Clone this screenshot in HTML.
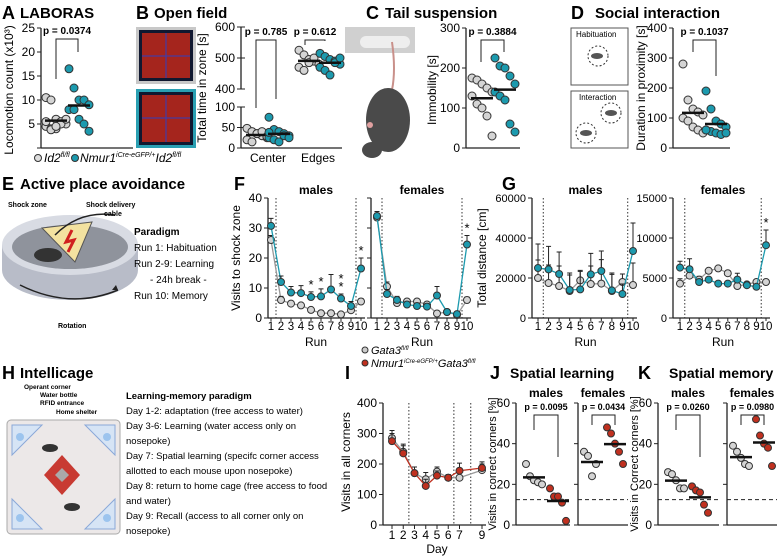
<!DOCTYPE html>
<html><head><meta charset="utf-8"><style>
html,body{margin:0;padding:0;background:#fff}
svg{display:block;font-family:"Liberation Sans",Arial,sans-serif}
.t{font-weight:bold;font-size:15px}
.L{font-weight:bold;font-size:18px}
</style></head><body>
<svg id="fig" width="778" height="559" viewBox="0 0 778 559">
<g>
<text class="L" x="2" y="19">A</text><text class="t" x="20" y="18">LABORAS</text>
<text class="L" x="136" y="19">B</text><text class="t" x="154" y="18">Open field</text>
<text class="L" x="366" y="19">C</text><text class="t" x="385" y="18">Tail suspension</text>
<text class="L" x="571" y="19">D</text><text class="t" x="595" y="18">Social interaction</text>
<text class="L" x="2" y="190">E</text><text class="t" x="20" y="189">Active place avoidance</text>
<text class="L" x="234" y="190">F</text>
<text class="L" x="502" y="190">G</text>
<text class="L" x="2" y="379">H</text><text class="t" x="20" y="378">Intellicage</text>
<text class="L" x="345" y="379">I</text>
<text class="L" x="490" y="379">J</text><text class="t" x="510" y="378" font-size="14" style="font-size:14px">Spatial learning</text>
<text class="L" x="638" y="379">K</text><text class="t" x="669" y="378" style="font-size:14px">Spatial memory</text>
</g>
<g>
<rect x="136" y="27" width="60" height="57" fill="#c8c8c8"/><rect x="139" y="30" width="54" height="51" fill="#101830"/><rect x="142" y="33" width="48" height="45" fill="#c0281a" opacity=".85"/>
<rect x="136" y="89" width="60" height="59" fill="#2a9fb2"/><rect x="139" y="92" width="54" height="53" fill="#101830"/><rect x="142" y="95" width="48" height="47" fill="#c0281a" opacity=".85"/>
<path d="M166 33V78M142 56H190M166 95V142M142 118H190" stroke="#3040c0" stroke-width="1"/>
</g>
<g>
<rect x="345" y="27" width="70" height="26" fill="#d0d0d0"/><rect x="360" y="36" width="50" height="12" rx="6" fill="#eee"/>
<path d="M392 42 Q396 70 392 90" stroke="#c9908a" stroke-width="2" fill="none"/>
<ellipse cx="388" cy="120" rx="22" ry="32" fill="#4a4a4a"/><ellipse cx="372" cy="150" rx="10" ry="8" fill="#4a4a4a"/><circle cx="370" cy="125" r="3" fill="#e0a0a0"/>
</g>
<g font-size="8">
<rect x="571" y="28" width="57" height="57" fill="#fff" stroke="#555"/><text x="576" y="37">Habituation</text><circle cx="598" cy="56" r="10" fill="none" stroke="#333" stroke-dasharray="2 2"/><ellipse cx="597" cy="56" rx="6" ry="3" fill="#555"/>
<rect x="571" y="91" width="57" height="57" fill="#fff" stroke="#555"/><text x="579" y="100">Interaction</text><circle cx="611" cy="113" r="10" fill="none" stroke="#333" stroke-dasharray="2 2"/><circle cx="586" cy="133" r="10" fill="none" stroke="#333" stroke-dasharray="2 2"/><ellipse cx="611" cy="113" rx="6" ry="3" fill="#555"/><ellipse cx="586" cy="133" rx="6" ry="3" fill="#555"/>
</g>
<g font-size="12" font-style="italic">
<circle cx="38" cy="158" r="3.5" fill="#ddd" stroke="#333"/><text x="44" y="162">Id2<tspan font-size="7" dy="-5">fl/fl</tspan></text>
<circle cx="75" cy="158" r="3.5" fill="#1c9aae" stroke="#333"/><text x="80" y="162">Nmur1<tspan font-size="7" dy="-5">iCre-eGFP/+</tspan><tspan dy="5">Id2</tspan><tspan font-size="7" dy="-5">fl/fl</tspan></text>
</g>
<g>
<ellipse cx="70" cy="270" rx="68" ry="30" fill="#b8bcc8"/><rect x="2" y="245" width="136" height="25" fill="#b8bcc8"/><ellipse cx="70" cy="245" rx="68" ry="30" fill="#d8dbe3"/><ellipse cx="70" cy="247" rx="58" ry="22" fill="#8f939c"/>
<path d="M42 228 L92 222 L75 262 Z" fill="#f3e2a0" stroke="#555"/><path d="M72 230 L66 242 L74 240 L68 252" stroke="#d02020" stroke-width="3" fill="none"/>
<ellipse cx="48" cy="255" rx="14" ry="7" fill="#333"/>
<path d="M55 235 Q80 210 115 215" stroke="#222" stroke-width="1.5" fill="none"/>
<path d="M20 285 Q70 310 118 290" stroke="#222" stroke-width="1.5" fill="none"/><path d="M118 290 l-6 0 l4 -5z" fill="#222"/>
<text x="8" y="207" font-size="7" font-weight="bold">Shock zone</text><text x="86" y="207" font-size="7" font-weight="bold">Shock delivery</text><text x="104" y="216" font-size="7" font-weight="bold">cable</text>
<text x="58" y="328" font-size="7" font-weight="bold">Rotation</text>
<text x="134" y="235" font-size="10" font-weight="bold">Paradigm</text>
<text x="134" y="251" font-size="10">Run 1:    Habituation</text><text x="134" y="267" font-size="10">Run 2-9:  Learning</text><text x="150" y="283" font-size="10">- 24h break -</text><text x="134" y="299" font-size="10">Run 10:   Memory</text>
</g>
<g>
<rect x="7" y="420" width="113" height="114" rx="4" fill="#ece8e8" stroke="#aaa"/>
<path d="M12 425h30l-30 30zM115 425h-30l30 30zM12 529h30l-30-30zM115 529h-30l30-30z" fill="#d6e4f5" stroke="#8aa8d8"/>
<circle cx="20" cy="437" r="4" fill="#9cc4ee"/><circle cx="107" cy="437" r="4" fill="#9cc4ee"/><circle cx="20" cy="518" r="4" fill="#9cc4ee"/><circle cx="107" cy="518" r="4" fill="#9cc4ee"/>
<path d="M62 455 L80 475 L62 495 L44 475Z" fill="#c83a32"/><path d="M62 468 L69 475 L62 482 L55 475Z" fill="#aaa"/>
<ellipse cx="50" cy="448" rx="8" ry="4" fill="#333"/><ellipse cx="72" cy="507" rx="8" ry="4" fill="#333"/>
<g font-size="6.5" font-weight="bold"><text x="24" y="389">Operant corner</text><text x="40" y="397">Water bottle</text><text x="40" y="405">RFID entrance</text><text x="56" y="414">Home shelter</text></g>
<g font-size="9.5"><text x="126" y="399" font-weight="bold">Learning-memory paradigm</text>
<text x="126" y="414">Day 1-2: adaptation (free access to water)</text><text x="126" y="429">Day 3-6: Learning (water access only on</text><text x="126" y="444">nosepoke)</text><text x="126" y="459">Day 7: Spatial learning (specifc corner access</text><text x="126" y="474">allotted to each mouse upon nosepoke)</text><text x="126" y="489">Day 8: return to home cage (free access to food</text><text x="126" y="504">and water)</text><text x="126" y="519">Day 9: Recall (access to all corner only on</text><text x="126" y="534">nosepoke)</text></g>
</g>
<g font-size="11" font-style="italic">
<circle cx="365" cy="350" r="3" fill="#ccc" stroke="#333"/><text x="371" y="354">Gata3<tspan font-size="6" dy="-4">fl/fl</tspan></text>
<circle cx="365" cy="363" r="3" fill="#c0301f" stroke="#333"/><text x="371" y="367">Nmur1<tspan font-size="6" dy="-4">iCre-eGFP/+</tspan><tspan dy="4">Gata3</tspan><tspan font-size="6" dy="-4">fl/fl</tspan></text>
</g>
<g id="charts"></g>
</svg>
<script>
// ---- data ----
const aGrey=[10.5,10,6,5.5,5,4.5,4,4,5,6,5.5,3.8,4.5];
const aTeal=[16.5,12.5,10,10,9,8,8,6,5,3.5];
const bCenterGrey=[48,40,35,30,25,20,15,35,40,28];
const bCenterTeal=[75,45,40,35,30,25,20,15,30,25,38];
const bEdgeGrey=[525,510,495,490,480,470,460,485,500];
const bEdgeTeal=[515,505,495,490,480,470,460,445,485,500];
const cGrey=[175,170,160,150,140,130,110,100,80,30];
const cTeal=[225,205,200,180,160,140,130,120,60,40];
const dGrey=[280,160,130,120,110,100,90,70,60,50];
const dTeal=[190,130,90,80,70,60,55,50,45,50,60];
const runs=[1,2,3,4,5,6,7,8,9,10];
const fMaleGrey=[26,6,4.8,4.2,2.7,1.6,1.6,1.2,2.6,5.5];
const fMaleGreyErr=[1.5,1.2,0.8,0.5,0.5,0.3,0.3,0.3,1,1];
const fMaleTeal=[30.7,12,8.5,8.3,7,7.2,9.5,6.5,4,16.5];
const fMaleTealErr=[2.5,2,2,2.5,1.7,2.5,5,1.5,1.5,3.5];
const fFemGrey=[33.5,10.5,5,5.5,5.5,4.5,1.5,2,1,6];
const fFemGreyErr=[1.5,1.5,1.5,0.8,0.8,0.8,0.5,0.5,0.5,1];
const fFemTeal=[34,8,6,4.5,4,3.8,7.5,2,1.3,24.5];
const fFemTealErr=[1.5,1.5,1.2,1,1,1,3,0.8,0.5,3];
const gMaleGrey=[20000,17500,16000,13500,18800,17000,17200,13500,18000,16500];
const gMaleGreyErr=[9000,9000,10000,8000,5000,9000,12000,9000,4000,11000];
const gMaleTeal=[25000,24300,22000,14000,14300,21800,23500,13800,12000,33500];
const gMaleTealErr=[12000,11500,11000,8500,9000,10500,10000,8000,5000,14000];
const gFemGrey=[4300,5300,4800,5900,6200,5600,4000,4200,4500,4500];
const gFemGreyErr=[600,500,400,300,300,300,300,200,200,300];
const gFemTeal=[6300,6100,4500,4800,4300,4300,4800,4100,3900,9100];
const gFemTealErr=[800,1300,300,300,200,300,800,200,200,1900];
const iDays=[1,2,3,4,5,6,7,9];
const iGrey=[285,240,170,150,175,155,155,180];
const iRed=[275,235,170,128,162,155,178,187];
const iErr=[25,25,20,22,15,10,25,20];
const jMaleGrey=[30,24,22,21,20], jMaleRed=[18,14,14,11,2];
const jFemGrey=[36,34,24,30], jFemRed=[48,45,40,36,30];
const kMaleGrey=[26,25,22,18,18], kMaleRed=[19,17,16,10,6];
const kFemGrey=[39,36,33,30,29], kFemRed=[52,44,40,38,29];

const NS='http://www.w3.org/2000/svg';
const root=document.getElementById('charts');
const TEAL='#1c9aae',GREY='#d4d4d4',RED='#c0301f';
function mk(tag,at,parent){const e=document.createElementNS(NS,tag);for(const k in at)e.setAttribute(k,at[k]);(parent||root).appendChild(e);return e;}
function txt(x,y,s,at,parent){const e=mk('text',Object.assign({x:x,y:y},at||{}),parent);e.textContent=s;return e;}
function lin(v0,v1,p0,p1){return v=>p0+(v-v0)*(p1-p0)/(v1-v0);}
function group(name){const g=mk('g',{});return g;}
function yAxis(g,x,y,ticks,fmt,fs){mk('line',{x1:x,x2:x,y1:y(ticks[ticks.length-1]),y2:y(ticks[0]),stroke:'#222','stroke-width':1.3},g);
 ticks.forEach(t=>{mk('line',{x1:x-4,x2:x,y1:y(t),y2:y(t),stroke:'#222'},g);
  if(fmt){const e=txt(x-6,y(t)+4,fmt(t),{'text-anchor':'end','font-size':fs||12},g);}});}
function ylab(g,x,y,s,fs){const e=txt(0,0,s,{transform:`translate(${x},${y}) rotate(-90)`,'text-anchor':'middle','font-size':fs||12},g);}
function dots(g,vals,cx,y,fill,r,spread){const n=vals.length;const sp=spread||5;vals.forEach((v,i)=>{const off=((i%5)-2)*sp;
 const c=mk('circle',{cx:cx+off,cy:y(v),r:r,fill:fill,stroke:'#333','stroke-width':1},g);});
 const m=vals.reduce((a,b)=>a+b,0)/n;const l=mk('line',{x1:cx-11,x2:cx+11,y1:y(m),y2:y(m),stroke:'#111','stroke-width':2.5},g);}
function pbracket(g,x1,x2,ya,yb1,yb2,label,fs){mk('path',{d:`M${x1} ${yb1}V${ya}H${x2}V${yb2}`,fill:'none',stroke:'#222'},g);
 const t=txt((x1+x2)/2,ya-5,label,{'text-anchor':'middle','font-size':fs||10,'font-weight':'bold'},g);}

(function(){const g=group('chart-a-laboras');const y=lin(0,25,148,28);yAxis(g,41,y,[0,5,10,15,20,25],t=>t?t:'');
 mk('line',{x1:41,x2:133,y1:148,y2:148,stroke:'#222','stroke-width':1.3},g);
 ylab(g,13,90,'Locomotion count (x10³)',12);dots(g,aGrey,56,y,GREY,4);dots(g,aTeal,79,y,TEAL,4);
 pbracket(g,56,78,39,79,52,'p = 0.0374');})();
(function(){const g=group('chart-b-open-field');const yl=lin(0,100,148,107),yh=lin(400,600,89,27);
 const y=v=>v>=300?yh(v):yl(v);
 mk('line',{x1:241,x2:241,y1:148,y2:107,stroke:'#222','stroke-width':1.3},g);mk('line',{x1:241,x2:241,y1:89,y2:27,stroke:'#222','stroke-width':1.3},g);
 [0,50,100,400,500,600].forEach(t=>{mk('line',{x1:237,x2:245,y1:y(t),y2:y(t),stroke:'#222'},g);txt(235,y(t)+4,t,{'text-anchor':'end','font-size':12},g);});
 mk('line',{x1:241,x2:342,y1:148,y2:148,stroke:'#222','stroke-width':1.3},g);
 ylab(g,206,88,'Total time in zone [s]',12);
 dots(g,bCenterGrey,257,y,GREY,4);dots(g,bCenterTeal,279,y,TEAL,4);dots(g,bEdgeGrey,309,y,GREY,4);dots(g,bEdgeTeal,330,y,TEAL,4);
 pbracket(g,256,276,40,108,99,'p = 0.785');pbracket(g,305,325,40,45,41,'p = 0.612');
 txt(268,162,'Center',{'text-anchor':'middle','font-size':12},g);txt(318,162,'Edges',{'text-anchor':'middle','font-size':12},g);})();
(function(){const g=group('chart-c-tail-suspension');const y=lin(0,300,148,28);yAxis(g,466,y,[0,100,200,300],t=>t);
 mk('line',{x1:466,x2:520,y1:148,y2:148,stroke:'#222','stroke-width':1.3},g);ylab(g,436,90,'Immobility [s]',12);
 dots(g,cGrey,482,y,GREY,4);dots(g,cTeal,505,y,TEAL,4);pbracket(g,481,504,40,62,52,'p = 0.3884');})();
(function(){const g=group('chart-d-social-interaction');const y=lin(0,400,148,28);yAxis(g,673,y,[0,100,200,300,400],t=>t);
 mk('line',{x1:673,x2:730,y1:148,y2:148,stroke:'#222','stroke-width':1.3},g);ylab(g,645,88,'Duration in proximity [s]',12);
 dots(g,dGrey,693,y,GREY,4);dots(g,dTeal,716,y,TEAL,4);pbracket(g,693,716,40,52,76,'p = 0.1037');})();
function lineChart(g,xs,xfun,y,vals,errs,col,fill,r){
 const pl=mk('polyline',{points:xs.map((d,i)=>xfun(d)+','+y(vals[i])).join(' '),fill:'none',stroke:col,'stroke-width':1.3},g);
 xs.forEach((d,i)=>{const x=xfun(d),yt=y(vals[i]+errs[i]);mk('path',{d:`M${x} ${y(vals[i])}V${yt}M${x-2.5} ${yt}H${x+2.5}`,stroke:'#222','stroke-width':1},g);
  const c=mk('circle',{cx:x,cy:y(vals[i]),r:r,fill:fill,stroke:'#333','stroke-width':1},g);});}
function runPanel(name,ax,x1,x10,y,ticks,fmt,grey,ge,teal,te,title,fs){
 const g=group(name);const x=lin(1,10,x1,x10);yAxis(g,ax,y,ticks,fmt,fs);
 mk('line',{x1:ax,x2:x10+4,y1:y(ticks[0]),y2:y(ticks[0]),stroke:'#222','stroke-width':1.3},g);
 runs.forEach(r=>{mk('line',{x1:x(r),x2:x(r),y1:y(ticks[0]),y2:y(ticks[0])+3,stroke:'#222'},g);txt(x(r),330,r,{'text-anchor':'middle','font-size':11.5},g);});
 [1.5,9.5].forEach(r=>mk('line',{x1:x(r),x2:x(r),y1:y(ticks[ticks.length-1]),y2:y(ticks[0]),stroke:'#333','stroke-dasharray':'1.5 2'},g));
 txt((x1+x10)/2,346,'Run',{'text-anchor':'middle','font-size':12},g);txt((x1+x10)/2,194,title,{'text-anchor':'middle','font-size':12,'font-weight':'bold'},g);
 lineChart(g,runs,x,y,grey,ge,'#999',GREY,3.5);lineChart(g,runs,x,y,teal,te,TEAL,TEAL,3.5);return {g,x};}
(function(){const y=lin(0,40,318,198);
 const m=runPanel('chart-f-males',268,271,361,y,[0,10,20,30,40],t=>t,fMaleGrey,fMaleGreyErr,fMaleTeal,fMaleTealErr,'males',12);
 ylab(m.g,240,258,'Visits to shock zone',12);
 [5,6,8,10].forEach(r=>txt(m.x(r),y(fMaleTeal[r-1]+fMaleTealErr[r-1])-3,'*',{'text-anchor':'middle','font-size':13},m.g));
 txt(m.x(8),y(fMaleTeal[7]+fMaleTealErr[7])-11,'*',{'text-anchor':'middle','font-size':13},m.g);
 const f=runPanel('chart-f-females',371,377,467,y,[0,10,20,30,40],null,fFemGrey,fFemGreyErr,fFemTeal,fFemTealErr,'females');
 txt(f.x(10),y(fFemTeal[9]+fFemTealErr[9])-3,'*',{'text-anchor':'middle','font-size':13},f.g);})();
(function(){const y=lin(0,60000,318,198);
 const m=runPanel('chart-g-males',532,538,633,y,[0,20000,40000,60000],t=>t,gMaleGrey,gMaleGreyErr,gMaleTeal,gMaleTealErr,'males',11);
 ylab(m.g,486,258,'Total distance [cm]',12);
 const y2=lin(0,15000,318,198);
 const f=runPanel('chart-g-females',673,680,766,y2,[0,5000,10000,15000],t=>t,gFemGrey,gFemGreyErr,gFemTeal,gFemTealErr,'females',11);
 txt(f.x(10),y2(gFemTeal[9]+gFemTealErr[9])-3,'*',{'text-anchor':'middle','font-size':13},f.g);})();
(function(){const g=group('chart-i-intellicage');const y=lin(0,400,525,403),x=lin(1,9,392,482);yAxis(g,383,y,[0,100,200,300,400],t=>t);
 mk('line',{x1:383,x2:486,y1:525,y2:525,stroke:'#222','stroke-width':1.3},g);ylab(g,350,462,'Visits in all corners',12);
 [1,2,3,4,5,6,7,9].forEach(d=>{mk('line',{x1:x(d),x2:x(d),y1:525,y2:529,stroke:'#222'},g);txt(x(d),539,d,{'text-anchor':'middle','font-size':12},g);});
 txt(437,553,'Day',{'text-anchor':'middle','font-size':12},g);
 [2.5,6.5,8].forEach(d=>mk('line',{x1:x(d),x2:x(d),y1:403,y2:525,stroke:'#333','stroke-dasharray':'1.5 2'},g));
 lineChart(g,iDays,x,y,iGrey,iErr,'#999',GREY,3.5);lineChart(g,iDays,x,y,iRed,iErr,RED,RED,3.5);})();
function scatterPair(name,ax,axF,mg,mr,fg,fr,pm,pf,ytitle){
 const g=group(name);const y=lin(0,60,525,403);yAxis(g,ax,y,[0,20,40,60],t=>t);yAxis(g,axF,y,[0,20,40,60],null);
 mk('line',{x1:ax,x2:axF-8,y1:525,y2:525,stroke:'#222','stroke-width':1.3},g);mk('line',{x1:axF,x2:axF+50,y1:525,y2:525,stroke:'#222','stroke-width':1.3},g);
 mk('line',{x1:ax,x2:axF-8,y1:y(12.5),y2:y(12.5),stroke:'#222','stroke-dasharray':'4 3'},g);mk('line',{x1:axF,x2:axF+50,y1:y(12.5),y2:y(12.5),stroke:'#222','stroke-dasharray':'4 3'},g);
 ylab(g,ax-20,464,ytitle,11);
 txt(ax+30,397,'males',{'text-anchor':'middle','font-size':12,'font-weight':'bold'},g);txt(axF+25,397,'females',{'text-anchor':'middle','font-size':12,'font-weight':'bold'},g);
 dots(g,mg,ax+18,y,GREY,3.5,4);dots(g,mr,ax+42,y,RED,3.5,4);dots(g,fg,axF+14,y,GREY,3.5,4);dots(g,fr,axF+37,y,RED,3.5,4);
 pbracket(g,ax+18,ax+42,415,430,457,pm,9);pbracket(g,axF+14,axF+37,415,425,425,pf,9);}
scatterPair('chart-j-spatial-learning',516,578,jMaleGrey,jMaleRed,jFemGrey,jFemRed,'p = 0.0095','p = 0.0434','Visits in correct corners [%]');
scatterPair('chart-k-spatial-memory',658,727,kMaleGrey,kMaleRed,kFemGrey,kFemRed,'p = 0.0260','p = 0.0980','Visits in Correct corners [%]');
</script>
</body></html>
